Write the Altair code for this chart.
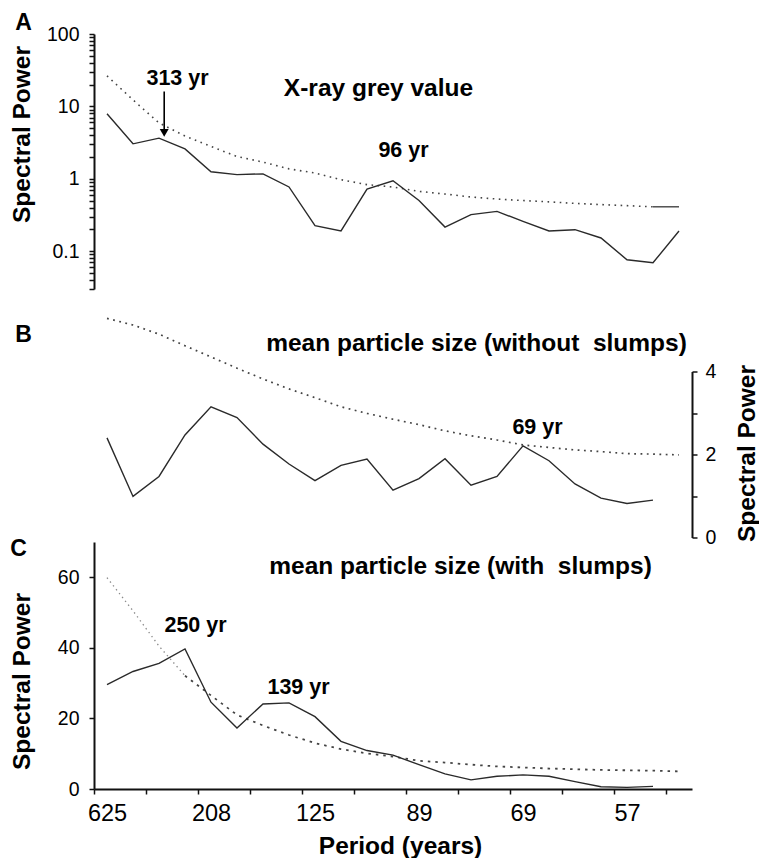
import altair as alt
import pandas as pd

FONT = "Liberation Sans"
LINE = "#2a2a2a"
DOT = "#444444"

# ---------------- data ----------------
cats = list(range(1, 24))                       # half-step harmonic index
x_label_cats = [1, 5, 9, 13, 17, 21]
x_labels = ["625", "208", "125", "89", "69", "57"]

a_solid = [7.9, 3.04, 3.64, 2.59, 1.25, 1.14, 1.17, 0.77, 0.225, 0.19, 0.72, 0.94,
           0.50, 0.215, 0.32, 0.354, 0.258, 0.19, 0.198, 0.152, 0.076, 0.069, 0.19]
a_dotted = [26.4, 12.3, 5.9, 3.9, 2.8, 2.03, 1.70, 1.37, 1.2, 0.97, 0.83, 0.77,
            0.67, 0.615, 0.56, 0.525, 0.50, 0.48, 0.457, 0.44, 0.425, 0.41, 0.41]

b_solid = [2.40, 0.99, 1.47, 2.47, 3.15, 2.89, 2.25, 1.77, 1.37, 1.74, 1.89, 1.14,
           1.42, 1.90, 1.26, 1.47, 2.21, 1.85, 1.29, 0.95, 0.82, 0.90]
b_dotted = [5.28, 5.12, 4.90, 4.62, 4.35, 4.08, 3.82, 3.58, 3.37, 3.15, 2.99, 2.85,
            2.72, 2.57, 2.45, 2.35, 2.23, 2.17, 2.11, 2.07, 2.02, 2.01, 1.99]

c_solid = [29.6, 33.3, 35.6, 39.7, 24.6, 17.3, 24.1, 24.4, 20.5, 13.5, 10.9, 9.6,
           6.9, 4.3, 2.6, 3.6, 4.0, 3.6, 2.1, 0.65, 0.45, 0.75]
c_dotted = [59.9, 50.5, 40.5, 32.1, 26.5, 21.0, 18.0, 15.3, 13.0, 11.3, 10.1, 9.2,
            8.0, 7.5, 6.9, 6.4, 6.1, 5.8, 5.6, 5.4, 5.3, 5.2, 5.0]

a_label_vals = [0.1, 1, 10, 100]
a_minor_vals = [round(m * 10 ** e, 2) for e in range(-2, 2) for m in range(1, 10)
                if 0.03 <= m * 10 ** e <= 100] + [100]
b_tick_vals = [0, 1, 2, 3, 4]
c_tick_vals = [0, 10, 20, 30, 40, 50, 60, 70]

arrow_x = [3.2]
arrow_top = [16.0]
arrow_tip = [4.3]

W = 598
HA, HB, HC = 255, 166, 247
TITLE = 24.5
ANN = 21.5
TICK = 19.5


def df(vals):
    return pd.DataFrame({"c": cats[:len(vals)], "v": vals})


one = pd.DataFrame({"k": [0]})
xscale = alt.Scale(domain=[0.5, 23.5], nice=False, zero=False)


def label(text, x, y, size, bold=True, align="center"):
    return alt.Chart(one).mark_text(
        text=text, font=FONT, fontSize=size,
        fontWeight="bold" if bold else "normal",
        align=align, baseline="middle", color="black"
    ).encode(x=alt.value(x), y=alt.value(y))


axis_common = dict(grid=False, domainColor="#111", tickColor="#111", domainWidth=2,
                   tickWidth=1.5, tickSize=5, labelColor="black", titleColor="black",
                   labelFont=FONT, titleFont=FONT)

# ---------------- panel A ----------------
yA = alt.Scale(type="log", domain=[0.03, 100], nice=False)
a_expr = " : ".join(f"datum.value == {v} ? '{v}'" for v in a_label_vals) + " : ''"
axisA = alt.Axis(values=a_minor_vals, labelExpr=a_expr, labelFontSize=TICK,
                 labelPadding=10, labelOverlap=False, title="Spectral Power",
                 titleFontSize=TITLE, titleFontWeight="bold", titleAngle=270,
                 titleX=-71.5, titleY=100, titleAlign="center", titleBaseline="middle",
                 **axis_common)

xA = alt.X("c:Q", scale=xscale, axis=None)
a_line = alt.Chart(df(a_solid)).mark_line(color=LINE, strokeWidth=1.4).encode(
    x=xA, y=alt.Y("v:Q", scale=yA, axis=axisA))
a_dot_df = df(a_dotted)
a_dot = alt.Chart(a_dot_df[a_dot_df.c <= 22]).mark_line(
    color=DOT, strokeWidth=1.6, strokeDash=[1.6, 4.5]).encode(
    x=xA, y=alt.Y("v:Q", scale=yA))
a_dot_end = alt.Chart(a_dot_df[a_dot_df.c >= 22]).mark_line(
    color=DOT, strokeWidth=1.4).encode(x=xA, y=alt.Y("v:Q", scale=yA))

arrow_df = pd.DataFrame({"x": arrow_x, "top": arrow_top, "tip": arrow_tip})
a_arrow = alt.Chart(arrow_df).mark_rule(color="black", strokeWidth=1.6).encode(
    x=alt.X("x:Q", scale=xscale), y=alt.Y("top:Q", scale=yA), y2="tip:Q")
a_head = alt.Chart(arrow_df).mark_point(shape="triangle-down", filled=True, size=80,
                                        color="black", opacity=1).encode(
    x=alt.X("x:Q", scale=xscale), y=alt.Y("tip:Q", scale=yA))

anchor = alt.Chart(one).mark_rect(color="white").encode(
    x=alt.value(-93.5), x2=alt.value(-92.5), y=alt.value(-33.5), y2=alt.value(-32.5))

panelA = alt.layer(
    anchor, a_dot, a_dot_end, a_line, a_arrow, a_head,
    label("A", -70.5, -11.5, 23),
    label("313 yr", 83.5, 44.5, ANN),
    label("X-ray grey value", 284.5, 54.5, TITLE),
    label("96 yr", 309.5, 116.5, ANN),
).properties(width=W, height=HA)

# ---------------- panel B ----------------
yB = alt.Scale(domain=[0, 4], nice=False, zero=True)
axisB = alt.Axis(orient="right", values=b_tick_vals,
                 labelExpr="datum.value % 2 == 0 ? datum.label : ''",
                 labelFontSize=TICK, labelPadding=8, labelOverlap=False,
                 title="Spectral Power", titleFontSize=TITLE, titleFontWeight="bold",
                 titleAngle=270, titleX=55, titleY=81.5, titleAlign="center",
                 titleBaseline="middle", **axis_common)
b_line = alt.Chart(df(b_solid)).mark_line(color=LINE, strokeWidth=1.4).encode(
    x=xA, y=alt.Y("v:Q", scale=yB, axis=axisB))
b_dot = alt.Chart(df(b_dotted)).mark_line(
    color=DOT, strokeWidth=1.7, strokeDash=[1.8, 4.5]).encode(
    x=xA, y=alt.Y("v:Q", scale=yB))

panelB = alt.layer(
    b_dot, b_line,
    label("B", -70.5, -37, 23),
    label("mean particle size (without\u00a0 slumps)", 382.5, -28, TITLE),
    label("69 yr", 443.5, 56, ANN),
).properties(width=W, height=HB)

# ---------------- panel C ----------------
yC = alt.Scale(domain=[0, 70], nice=False, zero=True)
axisC = alt.Axis(values=c_tick_vals,
                 labelExpr="datum.value % 20 == 0 ? datum.label : ''",
                 labelFontSize=TICK, labelPadding=10, labelOverlap=False,
                 title="Spectral Power", titleFontSize=TITLE, titleFontWeight="bold",
                 titleAngle=270, titleX=-71.5, titleY=139, titleAlign="center",
                 titleBaseline="middle", **axis_common)
x_expr = " : ".join(f"datum.value == {c - 0.5} ? '{lab}'"
                    for c, lab in zip(x_label_cats, x_labels)) + " : ''"
axisX = alt.Axis(values=[c - 0.5 for c in cats] + [23.5], labelExpr=x_expr,
                 labelOffset=13, labelFlush=False, labelOverlap=False, labelBound=False,
                 labelFontSize=23.5, labelPadding=7, title="Period (years)",
                 titleFontSize=TITLE, titleFontWeight="bold", titlePadding=10,
                 titleX=306, **axis_common)
xC = alt.X("c:Q", scale=xscale, axis=axisX)
c_line = alt.Chart(df(c_solid)).mark_line(color=LINE, strokeWidth=1.4).encode(
    x=xC, y=alt.Y("v:Q", scale=yC, axis=axisC))
c_dot_df = df(c_dotted)
c_dot_hi = alt.Chart(c_dot_df[c_dot_df.c <= 4]).mark_line(
    color="#8a8a8a", strokeWidth=1.3, strokeDash=[1.4, 3.5]).encode(
    x=alt.X("c:Q", scale=xscale), y=alt.Y("v:Q", scale=yC))
c_dot = alt.Chart(c_dot_df[c_dot_df.c >= 4]).mark_line(
    color=DOT, strokeWidth=1.8, strokeDash=[2.5, 5]).encode(
    x=alt.X("c:Q", scale=xscale), y=alt.Y("v:Q", scale=yC))

panelC = alt.layer(
    c_dot_hi, c_dot, c_line,
    label("C", -75.5, 6.5, 23),
    label("mean particle size (with\u00a0 slumps)", 366.5, 24.5, TITLE),
    label("250 yr", 101.5, 83.5, ANN),
    label("139 yr", 204.5, 145.5, ANN),
).properties(width=W, height=HC)

inner = alt.vconcat(panelB, panelC, spacing=4.5, bounds="flush")
chart = alt.vconcat(panelA, inner, spacing=82.5, bounds="flush").properties(
    padding=0, background="white"
).configure_view(stroke=None)

chart.save("out.html", embed_options={"renderer": "svg", "actions": False})
